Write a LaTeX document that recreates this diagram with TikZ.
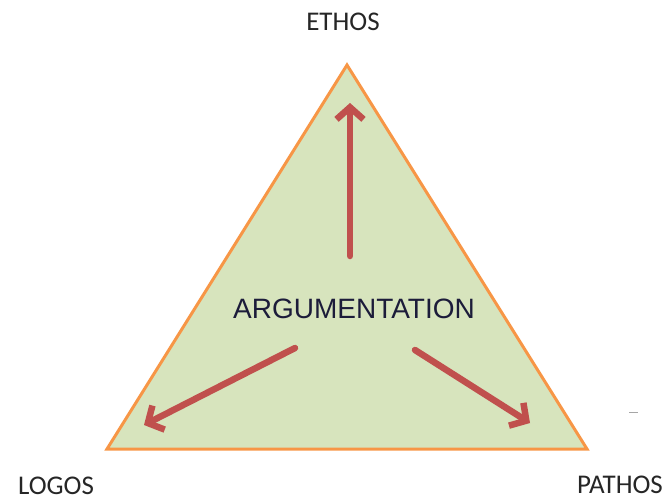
\documentclass[tikz,border=0pt]{standalone}
\usepackage{fontspec}
\setmainfont{Carlito}
\newfontfamily\argfont{Liberation Sans}
\usepackage{xcolor}
\usetikzlibrary{arrows.meta,positioning}

\definecolor{triFill}{HTML}{D7E4BD}
\definecolor{triLine}{HTML}{F79646}
\definecolor{arrRed}{HTML}{C0504D}
\definecolor{argText}{HTML}{1C1C3A}

\begin{document}
\begin{tikzpicture}[
  x=1pt,y=-1pt,
  tri/.style={draw=triLine,fill=triFill,line width=3pt,line join=miter},
  corner/.style={font=\fontsize{27}{30}\selectfont,text=black!85,inner sep=0pt},
  arr/.style={-{Straight Barb[length=12pt,width=27pt]},line width=6.5pt,
              draw=arrRed,line cap=round}
]
\useasboundingbox (0,0) rectangle (672,501);

% corners of the triangle
\coordinate (top) at (347,65);
\coordinate (bl) at (107,449);
\coordinate (br) at (587,449);
\draw[tri] (top) -- (br) -- (bl) -- cycle;

% labels
\node[corner] (ethos) at (343,22) {ETHOS};
\node[corner] (logos) at (56,486) {LOGOS};
\node[corner] (pathos) at (620,485) {PATHOS};
\node[font=\argfont\fontsize{28}{32}\selectfont,text=argText,inner sep=0pt]
  (arg) at (354,309) {ARGUMENTATION};

% arrows out of the centre
\coordinate (upS) at (350,256);
\coordinate (upE) at (350,103);
\coordinate (lfS) at (295,348);
\coordinate (lfE) at (144,425);
\coordinate (rtS) at (415,350);
\coordinate (rtE) at (530,423);
\draw[arr] (upS) -- (upE);
\draw[arr] (lfS) -- (lfE);
\draw[arr] (rtS) -- (rtE);

% stray mark
\coordinate (dashA) at (629,412);
\coordinate (dashB) at (638,412);
\draw[gray!70,line width=1pt] (dashA) -- (dashB);
\end{tikzpicture}
\end{document}
